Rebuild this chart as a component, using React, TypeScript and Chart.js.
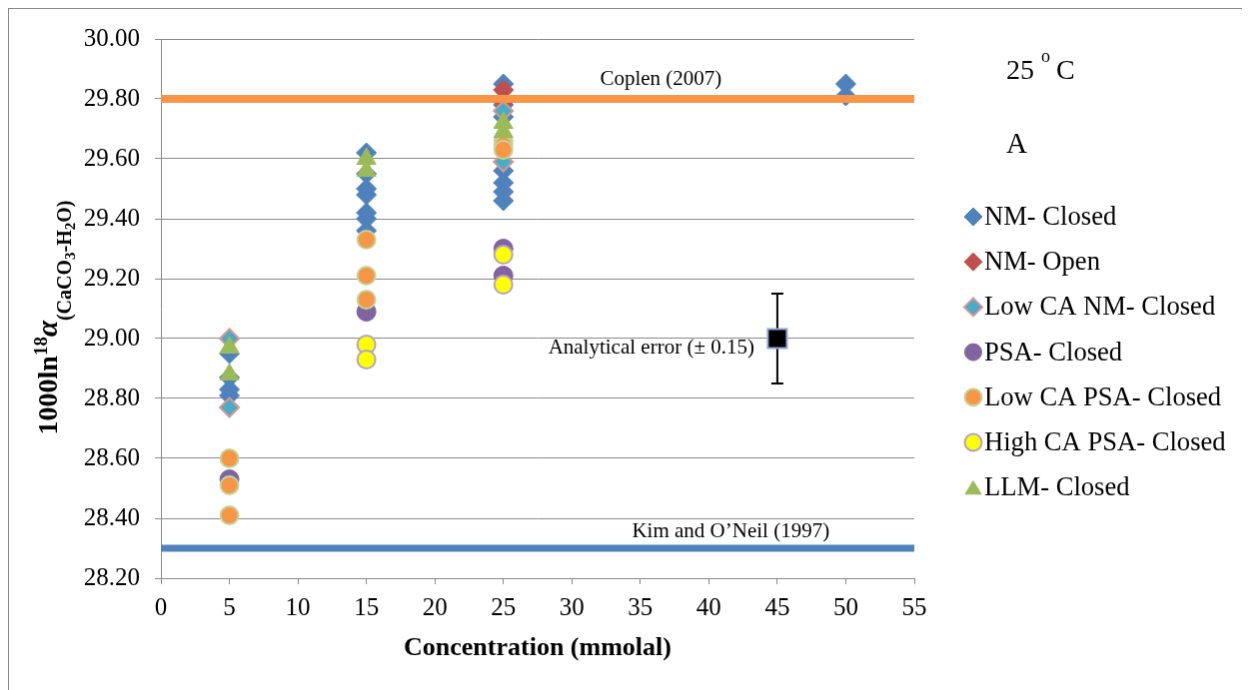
import React, { useEffect, useRef } from "react";
import { Chart, registerables } from "chart.js";

Chart.register(...registerables);

// ---------- data ----------
const X_MIN = 0;
const X_MAX = 55;
const X_STEP = 5;
const Y_MIN = 28.2;
const Y_MAX = 30.0;
const Y_STEP = 0.2;

const NM_CLOSED_X = [5, 5, 5, 5, 15, 15, 15, 15, 15, 15, 15, 25, 25, 25, 25, 25, 25, 25, 50, 50];
const NM_CLOSED_Y = [28.95, 28.87, 28.83, 28.81, 29.62, 29.55, 29.5, 29.48, 29.42, 29.4, 29.36, 29.85, 29.78, 29.74, 29.56, 29.52, 29.49, 29.46, 29.85, 29.81];

const NM_OPEN_X = [25, 25];
const NM_OPEN_Y = [29.83, 29.79];

const LOWCA_NM_X = [5, 5, 25, 25];
const LOWCA_NM_Y = [29.0, 28.77, 29.76, 29.59];

const PSA_X = [5, 15, 25, 25];
const PSA_Y = [28.53, 29.09, 29.3, 29.21];

const LOWCA_PSA_X = [5, 5, 5, 15, 15, 15, 25, 25, 25];
const LOWCA_PSA_Y = [28.6, 28.51, 28.41, 29.33, 29.21, 29.13, 29.66, 29.645, 29.63];

const HIGHCA_PSA_X = [15, 15, 25, 25];
const HIGHCA_PSA_Y = [28.98, 28.93, 29.28, 29.18];

const LLM_X = [5, 5, 15, 15, 25, 25];
const LLM_Y = [28.97, 28.88, 29.6, 29.56, 29.72, 29.69];

const ERR_X = [45];
const ERR_Y = [29.0];
const ERR_PM = 0.15;

const COPLEN_Y = 29.8;
const KIM_Y = 28.3;

const LEGEND_LABELS = [
  "NM- Closed",
  "NM- Open",
  "Low CA NM- Closed",
  "PSA- Closed",
  "Low CA PSA- Closed",
  "High CA PSA- Closed",
  "LLM- Closed",
];

// ---------- styles ----------
const SERIF = '"Liberation Serif", "Times New Roman", Times, serif';
const GRID = "#8a8a8a";

const pts = (xs: number[], ys: number[]) => xs.map((x, i) => ({ x, y: ys[i] }));

type Sty = { shape: string; fill: string; stroke: string; r: number; bw: number };
const STYLES: Sty[] = [
  { shape: "rectRot", fill: "#4F81BD", stroke: "#4F81BD", r: 10, bw: 1 },
  { shape: "rectRot", fill: "#C0504D", stroke: "#C0504D", r: 10, bw: 1 },
  { shape: "rectRot", fill: "#4BACC6", stroke: "#DA9694", r: 9.5, bw: 2 },
  { shape: "circle", fill: "#8064A2", stroke: "#8064A2", r: 9.5, bw: 1 },
  { shape: "circle", fill: "#F79646", stroke: "#C3D69B", r: 9, bw: 2 },
  { shape: "circle", fill: "#FFFF00", stroke: "#B3A2C7", r: 9, bw: 2 },
  { shape: "triangle", fill: "#9BBB59", stroke: "#9BBB59", r: 11, bw: 1 },
];

function drawMarker(ctx: CanvasRenderingContext2D, s: Sty, x: number, y: number, r: number) {
  ctx.save();
  ctx.fillStyle = s.fill;
  ctx.strokeStyle = s.stroke;
  ctx.lineWidth = s.bw;
  ctx.beginPath();
  if (s.shape === "rectRot") {
    ctx.moveTo(x, y - r);
    ctx.lineTo(x + r, y);
    ctx.lineTo(x, y + r);
    ctx.lineTo(x - r, y);
    ctx.closePath();
  } else if (s.shape === "circle") {
    ctx.arc(x, y, r, 0, Math.PI * 2);
  } else {
    const h = r * 1.732 * 0.9;
    ctx.moveTo(x, y - h / 2);
    ctx.lineTo(x + r * 0.95, y + h / 2);
    ctx.lineTo(x - r * 0.95, y + h / 2);
    ctx.closePath();
  }
  ctx.fill();
  ctx.stroke();
  ctx.restore();
}

const decorPlugin = {
  id: "decor",
  beforeDatasetsDraw(chart: any) {
    const ctx: CanvasRenderingContext2D = chart.ctx;
    const xs = chart.scales.x;
    const ys = chart.scales.y;
    ctx.save();
    ctx.strokeStyle = "#000";
    ctx.lineWidth = 2;
    ERR_X.forEach((xv, i) => {
      const px = xs.getPixelForValue(xv);
      const top = ys.getPixelForValue(ERR_Y[i] + ERR_PM);
      const bot = ys.getPixelForValue(ERR_Y[i] - ERR_PM);
      ctx.beginPath();
      ctx.moveTo(px, top);
      ctx.lineTo(px, bot);
      ctx.moveTo(px - 6, top);
      ctx.lineTo(px + 6, top);
      ctx.moveTo(px - 6, bot);
      ctx.lineTo(px + 6, bot);
      ctx.stroke();
    });
    ctx.restore();
  },
  afterDatasetsDraw(chart: any) {
    const ctx: CanvasRenderingContext2D = chart.ctx;
    const xs = chart.scales.x;
    const ys = chart.scales.y;
    const area = chart.chartArea;
    ctx.save();
    ctx.fillStyle = "#000";
    ctx.textBaseline = "alphabetic";

    ctx.font = `21px ${SERIF}`;
    ctx.textAlign = "center";
    ctx.fillText("Coplen (2007)", xs.getPixelForValue(36.5), ys.getPixelForValue(COPLEN_Y) - 14);
    ctx.fillText("Kim and O\u2019Neil (1997)", xs.getPixelForValue(41.6), ys.getPixelForValue(KIM_Y) - 11);
    ctx.textAlign = "right";
    ctx.fillText("Analytical error (\u00b1 0.15)", xs.getPixelForValue(ERR_X[0]) - 23, ys.getPixelForValue(ERR_Y[0]) + 15);

    ctx.textAlign = "center";
    ctx.font = `bold 26px ${SERIF}`;
    ctx.fillText("Concentration (mmolal)", (area.left + area.right) / 2, 647);

    const parts = [
      { t: "1000ln", f: `bold 28px ${SERIF}`, dy: 0 },
      { t: "18", f: `bold 19px ${SERIF}`, dy: -10 },
      { t: "\u03b1", f: `italic bold 29px ${SERIF}`, dy: 0 },
      { t: "(CaCO", f: `bold 20px ${SERIF}`, dy: 14 },
      { t: "3", f: `bold 15px ${SERIF}`, dy: 18 },
      { t: "-H", f: `bold 20px ${SERIF}`, dy: 14 },
      { t: "2", f: `bold 15px ${SERIF}`, dy: 18 },
      { t: "O)", f: `bold 20px ${SERIF}`, dy: 14 },
    ];
    let total = 0;
    const widths = parts.map((p) => {
      ctx.font = p.f;
      const w = ctx.measureText(p.t).width;
      total += w;
      return w;
    });
    ctx.save();
    ctx.translate(48, (area.top + area.bottom) / 2 + 9);
    ctx.rotate(-Math.PI / 2);
    ctx.textAlign = "left";
    let cx = -total / 2;
    parts.forEach((p, i) => {
      ctx.font = p.f;
      ctx.fillText(p.t, cx, p.dy);
      cx += widths[i];
    });
    ctx.restore();

    ctx.textAlign = "left";
    ctx.font = `28px ${SERIF}`;
    ctx.fillText("25", 998, 70);
    ctx.font = `18px ${SERIF}`;
    ctx.fillText("o", 1033, 53);
    ctx.font = `28px ${SERIF}`;
    ctx.fillText("C", 1048, 70);
    ctx.font = `29px ${SERIF}`;
    ctx.fillText("A", 998, 144);

    ctx.font = `26.6px ${SERIF}`;
    ctx.textBaseline = "middle";
    LEGEND_LABELS.forEach((lab, i) => {
      const y = 208 + i * 45.2;
      const s = STYLES[i];
      drawMarker(ctx, s, 965, y, s.shape === "rectRot" ? 9 : 8.5);
      ctx.fillStyle = "#000";
      ctx.fillText(lab, 976, y + 1);
    });
    ctx.restore();
  },
};

export default function App() {
  const ref = useRef<HTMLCanvasElement | null>(null);

  useEffect(() => {
    document.documentElement.style.overflow = "hidden";
    document.body.style.overflow = "hidden";
    if (!ref.current) return;
    const series = [
      { xs: NM_CLOSED_X, ys: NM_CLOSED_Y },
      { xs: NM_OPEN_X, ys: NM_OPEN_Y },
      { xs: LOWCA_NM_X, ys: LOWCA_NM_Y },
      { xs: PSA_X, ys: PSA_Y },
      { xs: LOWCA_PSA_X, ys: LOWCA_PSA_Y },
      { xs: HIGHCA_PSA_X, ys: HIGHCA_PSA_Y },
      { xs: LLM_X, ys: LLM_Y },
    ];
    const scatterSets: any[] = series.map((s, i) => ({
      type: "scatter",
      label: LEGEND_LABELS[i],
      data: pts(s.xs, s.ys),
      pointStyle: STYLES[i].shape,
      pointRadius: STYLES[i].r,
      pointBackgroundColor: STYLES[i].fill,
      pointBorderColor: STYLES[i].stroke,
      pointBorderWidth: STYLES[i].bw,
      showLine: false,
      order: 10 - i,
    }));
    const lineSets: any[] = [
      {
        type: "line",
        label: "Coplen (2007)",
        data: [
          { x: X_MIN, y: COPLEN_Y },
          { x: X_MAX, y: COPLEN_Y },
        ],
        borderColor: "#F79646",
        borderWidth: 8,
        pointRadius: 0,
        fill: false,
        order: 1,
      },
      {
        type: "line",
        label: "Kim and O'Neil (1997)",
        data: [
          { x: X_MIN, y: KIM_Y },
          { x: X_MAX, y: KIM_Y },
        ],
        borderColor: "#4F81BD",
        borderWidth: 7,
        pointRadius: 0,
        fill: false,
        order: 1,
      },
      {
        type: "scatter",
        label: "Analytical error",
        data: pts(ERR_X, ERR_Y),
        pointStyle: "rect",
        pointRadius: 13.5,
        pointBackgroundColor: "#000000",
        pointBorderColor: "#8EA9D6",
        pointBorderWidth: 2,
        order: 0,
      },
    ];

    const tickFont = { family: SERIF, size: 25 };
    const chart = new Chart(ref.current, {
      type: "scatter",
      data: { datasets: [...scatterSets, ...lineSets] },
      options: {
        responsive: false,
        animation: false,
        layout: { padding: { left: 0, top: 29, right: 354, bottom: 0 } },
        plugins: { legend: { display: false }, tooltip: { enabled: false } },
        scales: {
          x: {
            type: "linear",
            min: X_MIN,
            max: X_MAX,
            ticks: { stepSize: X_STEP, font: tickFont, color: "#000", padding: 9, maxRotation: 0 },
            grid: { drawOnChartArea: false, drawTicks: true, tickLength: 6, color: GRID },
            border: { color: GRID, width: 1 },
            afterFit: (s: any) => {
              s.height = 130;
            },
          },
          y: {
            type: "linear",
            min: Y_MIN,
            max: Y_MAX,
            ticks: {
              stepSize: Y_STEP,
              font: tickFont,
              color: "#000",
              padding: 15,
              callback: (v: any) => Number(v).toFixed(2),
            },
            grid: { color: GRID, tickLength: 6 },
            border: { color: GRID, width: 1 },
            afterFit: (s: any) => {
              s.width = 152;
            },
          },
        },
      } as any,
      plugins: [decorPlugin],
    } as any);
    return () => chart.destroy();
  }, []);

  return (
    <canvas
      ref={ref}
      width={1260}
      height={700}
      style={{ display: "block", borderLeft: "1px solid #8a8a8a", borderTop: "1px solid #8a8a8a" }}
    />
  );
}
